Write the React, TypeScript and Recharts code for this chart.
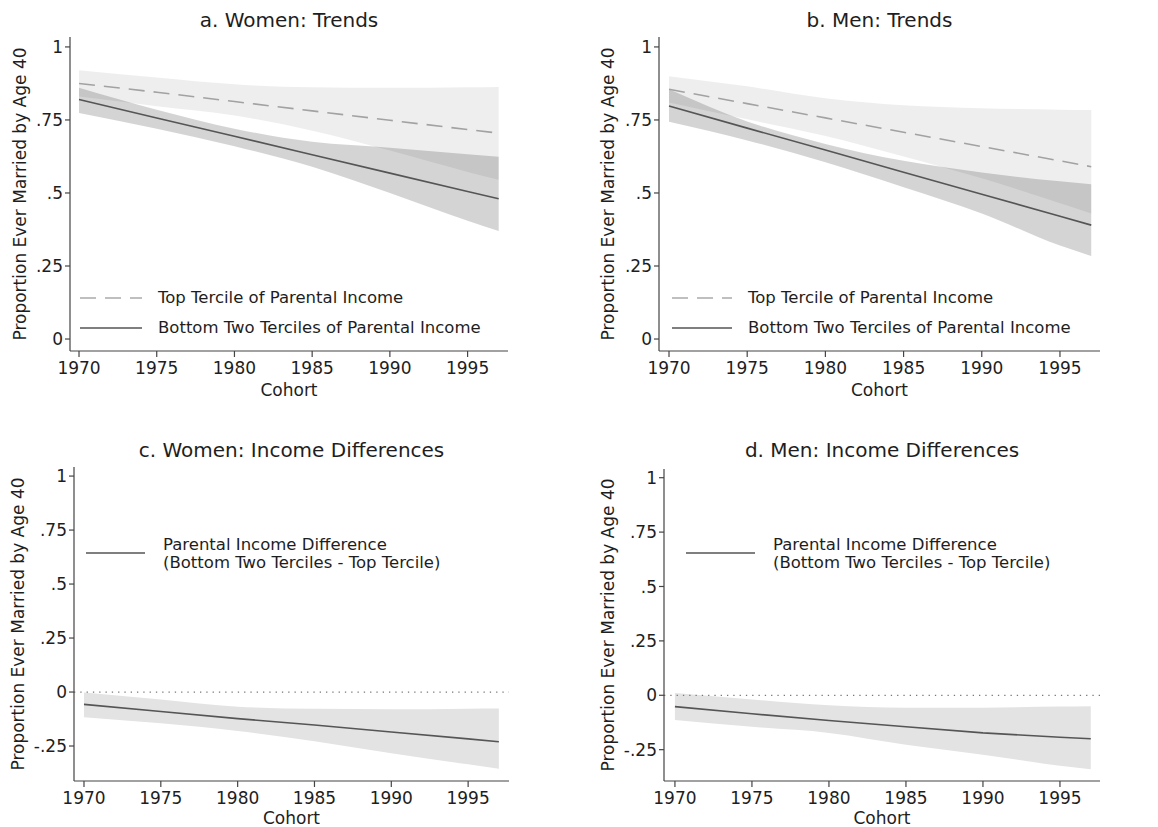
import { ComposedChart, Area, Line, XAxis, YAxis, ReferenceLine } from "recharts";

const cohorts = [1970, 1975, 1980, 1985, 1990, 1995, 1997];
const cohortTicks = [1970, 1975, 1980, 1985, 1990, 1995];
const trendTicks = [0, 0.25, 0.5, 0.75, 1];
const diffTicks = [-0.25, 0, 0.25, 0.5, 0.75, 1];

// a. women, trends by parental income tercile
const womenTop = [0.875, 0.845, 0.813, 0.781, 0.749, 0.717, 0.705];
const womenTopHi = [0.92, 0.895, 0.872, 0.862, 0.86, 0.862, 0.863];
const womenTopLo = [0.83, 0.797, 0.765, 0.713, 0.645, 0.572, 0.545];
const womenBot = [0.82, 0.757, 0.694, 0.631, 0.568, 0.505, 0.48];
const womenBotHi = [0.86, 0.785, 0.72, 0.675, 0.655, 0.633, 0.624];
const womenBotLo = [0.774, 0.72, 0.66, 0.59, 0.5, 0.405, 0.37];

// b. men, trends
const menTop = [0.855, 0.806, 0.757, 0.708, 0.659, 0.61, 0.59];
const menTopHi = [0.9, 0.865, 0.824, 0.8, 0.79, 0.785, 0.784];
const menTopLo = [0.81, 0.752, 0.695, 0.625, 0.55, 0.465, 0.43];
const menBot = [0.798, 0.722, 0.647, 0.571, 0.496, 0.42, 0.39];
const menBotHi = [0.855, 0.745, 0.668, 0.61, 0.57, 0.54, 0.53];
const menBotLo = [0.744, 0.68, 0.605, 0.52, 0.43, 0.32, 0.284];

// c./d. income differences (bottom two terciles - top tercile)
const womenDiff = [-0.057, -0.09, -0.123, -0.153, -0.185, -0.217, -0.23];
const womenDiffHi = [-0.002, -0.035, -0.068, -0.078, -0.08, -0.077, -0.076];
const womenDiffLo = [-0.117, -0.145, -0.18, -0.228, -0.283, -0.335, -0.355];
const menDiff = [-0.052, -0.085, -0.116, -0.145, -0.173, -0.193, -0.2];
const menDiffHi = [0.01, -0.019, -0.046, -0.057, -0.057, -0.052, -0.05];
const menDiffLo = [-0.114, -0.145, -0.173, -0.227, -0.273, -0.324, -0.34];

const FONT = "'DejaVu Sans', sans-serif";
const AXIS = "#444";
const TEXT = "#1e1e1e";
const Y_LABEL = "Proportion Ever Married by Age 40";

const fmtY = (v: number) => {
  if (v === 0) return "0";
  if (v === 1) return "1";
  return (v < 0 ? "-" : "") + String(Math.abs(v)).replace(/^0/, "");
};

const trendRows = (top: number[], topHi: number[], topLo: number[], bot: number[], botHi: number[], botLo: number[]) =>
  cohorts.map((c, i) => ({
    cohort: c,
    top: top[i],
    topBand: [topLo[i], topHi[i]],
    bot: bot[i],
    botBand: [botLo[i], botHi[i]],
  }));

const diffRows = (d: number[], hi: number[], lo: number[]) =>
  cohorts.map((c, i) => ({ cohort: c, diff: d[i], band: [lo[i], hi[i]] }));

type Box = {
  left: number;
  top: number;
  width: number;
  height: number;
  plotLeft: number;
  plotRight: number;
  plotTop: number;
  plotBottom: number;
  xDomain: [number, number];
  yDomain: [number, number];
  labelX: number;
  cohortOffset: number;
};

function Panel({
  box,
  title,
  titleY,
  data,
  kind,
}: {
  box: Box;
  title: string;
  titleY: number;
  data: any[];
  kind: "trend" | "diff";
}) {
  const xAxisH = box.top + box.height - box.plotBottom;
  const margin = {
    top: box.plotTop - box.top,
    right: box.left + box.width - box.plotRight,
    left: 0,
    bottom: 0,
  };
  const tickStyle = { fontSize: 17, fill: TEXT, fontFamily: FONT };
  return (
    <>
      <div
        style={{
          position: "absolute",
          left: box.plotLeft,
          width: box.plotRight - box.plotLeft,
          top: titleY - 12,
          lineHeight: "24px",
          textAlign: "center",
          fontSize: 20,
          fontFamily: FONT,
          color: TEXT,
        }}
      >
        {title}
      </div>
      <div style={{ position: "absolute", left: box.left, top: box.top }}>
        <ComposedChart width={box.width} height={box.height} data={data} margin={margin}>
          <XAxis
            dataKey="cohort"
            type="number"
            domain={box.xDomain}
            ticks={cohortTicks}
            interval={0}
            allowDataOverflow
            height={xAxisH}
            stroke={AXIS}
            strokeWidth={1.2}
            tickSize={6}
            tickMargin={5}
            tick={tickStyle}
            label={{
              value: "Cohort",
              position: "insideBottom",
              offset: box.cohortOffset,
              style: { fontSize: 17, fill: TEXT, fontFamily: FONT },
            }}
          />
          <YAxis
            type="number"
            domain={box.yDomain}
            ticks={kind === "trend" ? trendTicks : diffTicks}
            interval={0}
            allowDataOverflow
            width={box.plotLeft - box.left}
            stroke={AXIS}
            strokeWidth={1.2}
            tickSize={5}
            tickMargin={2}
            tickFormatter={fmtY}
            tick={tickStyle}
            label={{
              value: Y_LABEL,
              angle: -90,
              position: "insideLeft",
              offset: box.labelX,
              style: { fontSize: 17, fill: TEXT, fontFamily: FONT, textAnchor: "middle" },
            }}
          />
          {kind === "trend" ? (
            <>
              <Area
                dataKey="topBand"
                type="monotone"
                stroke="none"
                fill="#000"
                fillOpacity={0.065}
                isAnimationActive={false}
                dot={false}
                activeDot={false}
              />
              <Area
                dataKey="botBand"
                type="monotone"
                stroke="none"
                fill="#000"
                fillOpacity={0.17}
                isAnimationActive={false}
                dot={false}
                activeDot={false}
              />
              <Line
                dataKey="top"
                type="linear"
                stroke="#a2a2a2"
                strokeWidth={1.6}
                strokeDasharray="16 9"
                dot={false}
                activeDot={false}
                isAnimationActive={false}
              />
              <Line
                dataKey="bot"
                type="linear"
                stroke="#555"
                strokeWidth={1.6}
                dot={false}
                activeDot={false}
                isAnimationActive={false}
              />
            </>
          ) : (
            <>
              <Area
                dataKey="band"
                type="monotone"
                stroke="none"
                fill="#e3e3e3"
                fillOpacity={1}
                isAnimationActive={false}
                dot={false}
                activeDot={false}
              />
              <ReferenceLine y={0} stroke="#777" strokeWidth={1.3} strokeDasharray="1.3 5" />
              <Line
                dataKey="diff"
                type="linear"
                stroke="#555"
                strokeWidth={1.6}
                dot={false}
                activeDot={false}
                isAnimationActive={false}
              />
            </>
          )}
        </ComposedChart>
      </div>
    </>
  );
}

function LegendRow({ x, y, textX, label, dashed }: { x: number; y: number; textX: number; label: string; dashed?: boolean }) {
  return (
    <>
      <svg style={{ position: "absolute", left: x, top: y - 2 }} width={textX - x - 16} height={4}>
        <line
          x1={0}
          y1={2}
          x2={textX - x - 16}
          y2={2}
          stroke={dashed ? "#ababab" : "#555"}
          strokeWidth={1.6}
          strokeDasharray={dashed ? "16 9" : undefined}
        />
      </svg>
      <div
        style={{
          position: "absolute",
          left: textX,
          top: y - 11,
          lineHeight: "22px",
          fontSize: 16.5,
          fontFamily: FONT,
          color: TEXT,
          whiteSpace: "nowrap",
        }}
      >
        {label}
      </div>
    </>
  );
}

function DiffLegend({ x, y, textX }: { x: number; y: number; textX: number }) {
  return (
    <>
      <svg style={{ position: "absolute", left: x, top: y + 6 }} width={textX - x - 18} height={4}>
        <line x1={0} y1={2} x2={textX - x - 18} y2={2} stroke="#555" strokeWidth={1.4} />
      </svg>
      <div
        style={{
          position: "absolute",
          left: textX,
          top: y - 9,
          lineHeight: "18px",
          fontSize: 16.5,
          fontFamily: FONT,
          color: TEXT,
          whiteSpace: "nowrap",
        }}
      >
        Parental Income Difference
        <br />
        (Bottom Two Terciles - Top Tercile)
      </div>
    </>
  );
}

const boxA: Box = {
  left: 0, top: 0, width: 580, height: 410,
  plotLeft: 70, plotRight: 508, plotTop: 37, plotBottom: 351,
  xDomain: [1969.42, 1997.6], yDomain: [-0.041, 1.034],
  labelX: 20, cohortOffset: 14,
};
const boxB: Box = {
  left: 580, top: 0, width: 578, height: 410,
  plotLeft: 659, plotRight: 1100, plotTop: 37, plotBottom: 351,
  xDomain: [1969.36, 1997.56], yDomain: [-0.041, 1.034],
  labelX: 28, cohortOffset: 14,
};
const boxC: Box = {
  left: 0, top: 410, width: 580, height: 417,
  plotLeft: 74, plotRight: 509, plotTop: 467, plotBottom: 781,
  xDomain: [1969.35, 1997.66], yDomain: [-0.412, 1.042],
  labelX: 18, cohortOffset: 3,
};
const boxD: Box = {
  left: 580, top: 410, width: 578, height: 417,
  plotLeft: 664, plotRight: 1100, plotTop: 469, plotBottom: 781,
  xDomain: [1969.29, 1997.6], yDomain: [-0.394, 1.04],
  labelX: 28, cohortOffset: 3,
};

export default function App() {
  return (
    <div style={{ position: "absolute", left: 0, top: 0, width: 1158, height: 827, background: "#fff", overflow: "hidden" }}>
      <Panel box={boxA} title="a. Women: Trends" titleY={20} kind="trend"
        data={trendRows(womenTop, womenTopHi, womenTopLo, womenBot, womenBotHi, womenBotLo)} />
      <Panel box={boxB} title="b. Men: Trends" titleY={20} kind="trend"
        data={trendRows(menTop, menTopHi, menTopLo, menBot, menBotHi, menBotLo)} />
      <Panel box={boxC} title="c. Women: Income Differences" titleY={450} kind="diff"
        data={diffRows(womenDiff, womenDiffHi, womenDiffLo)} />
      <Panel box={boxD} title="d. Men: Income Differences" titleY={450} kind="diff"
        data={diffRows(menDiff, menDiffHi, menDiffLo)} />

      <LegendRow x={80} y={298} textX={158} label="Top Tercile of Parental Income" dashed />
      <LegendRow x={80} y={328} textX={158} label="Bottom Two Terciles of Parental Income" />
      <LegendRow x={672} y={298} textX={748} label="Top Tercile of Parental Income" dashed />
      <LegendRow x={672} y={328} textX={748} label="Bottom Two Terciles of Parental Income" />

      <DiffLegend x={86} y={545} textX={163} />
      <DiffLegend x={686} y={545} textX={773} />
    </div>
  );
}
